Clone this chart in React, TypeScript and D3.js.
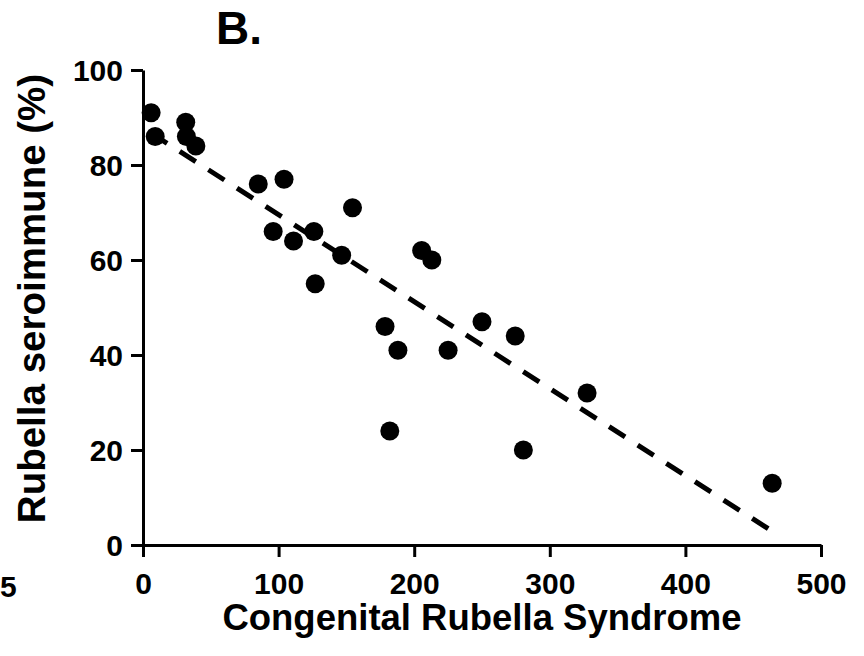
import React, { useEffect, useRef } from "react";
import * as d3 from "d3";

const crsCases = [6, 9, 31.5, 32, 39, 85, 104, 96, 111, 126, 127, 146.5, 154.5, 178.5, 182, 188, 205.5, 213, 225, 250, 274.5, 280.5, 327.5, 464];
const seroimmune = [91, 86, 89, 86, 84, 76, 77, 66, 64, 66, 55, 61, 71, 46, 24, 41, 62, 60, 41, 47, 44, 20, 32, 13];
const xTicks = [0, 100, 200, 300, 400, 500];
const yTicks = [0, 20, 40, 60, 80, 100];
const xTitle = "Congenital Rubella Syndrome";
const yTitle = "Rubella seroimmune (%)";
const panelLabel = "B.";
const leftPanelRemnant = "5";

const W = 864;
const H = 656;
const FONT = "'Liberation Sans', Arial, Helvetica, sans-serif";

export default function App() {
  const ref = useRef<SVGSVGElement>(null);

  useEffect(() => {
    const svg = d3.select(ref.current);
    svg.selectAll("*").remove();

    const x = d3.scaleLinear().domain([0, 500]).range([143, 821]);
    const y = d3.scaleLinear().domain([0, 100]).range([545, 70]);

    const data = crsCases.map((c, i) => ({ x: c, y: seroimmune[i] }));

    // linear regression
    const mx = d3.mean(data, (d) => d.x) as number;
    const my = d3.mean(data, (d) => d.y) as number;
    const sxy = d3.sum(data, (d) => (d.x - mx) * (d.y - my));
    const sxx = d3.sum(data, (d) => (d.x - mx) * (d.x - mx));
    const slope = sxy / sxx;
    const intercept = my - slope * mx;
    const [x0, x1] = d3.extent(data, (d) => d.x) as [number, number];
    const fit = [x0, x1].map((v) => ({ x: v, y: intercept + slope * v }));

    // axes
    const yAxis = d3.axisLeft(y).tickValues(yTicks).tickSize(12).tickSizeOuter(0).tickPadding(8);
    const gy = svg.append("g").attr("transform", `translate(${x(0)},0)`).call(yAxis);
    gy.select(".domain").attr("stroke", "#000").attr("stroke-width", 3);
    gy.selectAll(".tick line").attr("stroke", "#000").attr("stroke-width", 3);
    gy.selectAll(".tick text")
      .attr("font-family", FONT)
      .attr("font-weight", "bold")
      .attr("font-size", 30)
      .attr("fill", "#000")
      .attr("dy", "0.36em");

    const xAxis = d3.axisBottom(x).tickValues(xTicks).tickSize(12).tickSizeOuter(0).tickPadding(15);
    const gx = svg.append("g").attr("transform", `translate(0,${y(0)})`).call(xAxis);
    gx.select(".domain").attr("stroke", "#000").attr("stroke-width", 3);
    gx.selectAll(".tick line").attr("stroke", "#000").attr("stroke-width", 3);
    gx.selectAll(".tick text")
      .attr("font-family", FONT)
      .attr("font-weight", "bold")
      .attr("font-size", 30)
      .attr("fill", "#000")
      .attr("dy", "0.72em");

    // regression line
    const line = d3
      .line<{ x: number; y: number }>()
      .x((d) => x(d.x))
      .y((d) => y(d.y));
    svg
      .append("path")
      .datum(fit)
      .attr("d", line)
      .attr("fill", "none")
      .attr("stroke", "#000")
      .attr("stroke-width", 5)
      .attr("stroke-dasharray", "19 15");

    // points
    svg
      .append("g")
      .selectAll("circle")
      .data(data)
      .join("circle")
      .attr("cx", (d) => x(d.x))
      .attr("cy", (d) => y(d.y))
      .attr("r", 9.5)
      .attr("fill", "#000");

    // titles
    svg
      .append("text")
      .attr("x", (x(0) + x(500)) / 2)
      .attr("y", 630)
      .attr("text-anchor", "middle")
      .attr("font-family", FONT)
      .attr("font-weight", "bold")
      .attr("font-size", 36.5)
      .text(xTitle);

    svg
      .append("text")
      .attr("transform", `translate(45,${(y(0) + y(100)) / 2 - 9}) rotate(-90)`)
      .attr("text-anchor", "middle")
      .attr("font-family", FONT)
      .attr("font-weight", "bold")
      .attr("font-size", 38.5)
      .text(yTitle);

    svg
      .append("text")
      .attr("x", 216)
      .attr("y", 44)
      .attr("font-family", FONT)
      .attr("font-weight", "bold")
      .attr("font-size", 46)
      .text(panelLabel);

    svg
      .append("text")
      .attr("x", 0)
      .attr("y", 597)
      .attr("font-family", FONT)
      .attr("font-weight", "bold")
      .attr("font-size", 30)
      .text(leftPanelRemnant);
  }, []);

  return (
    <svg
      ref={ref}
      width={W}
      height={H}
      style={{ position: "absolute", left: 0, top: 0, background: "#fff" }}
    />
  );
}
